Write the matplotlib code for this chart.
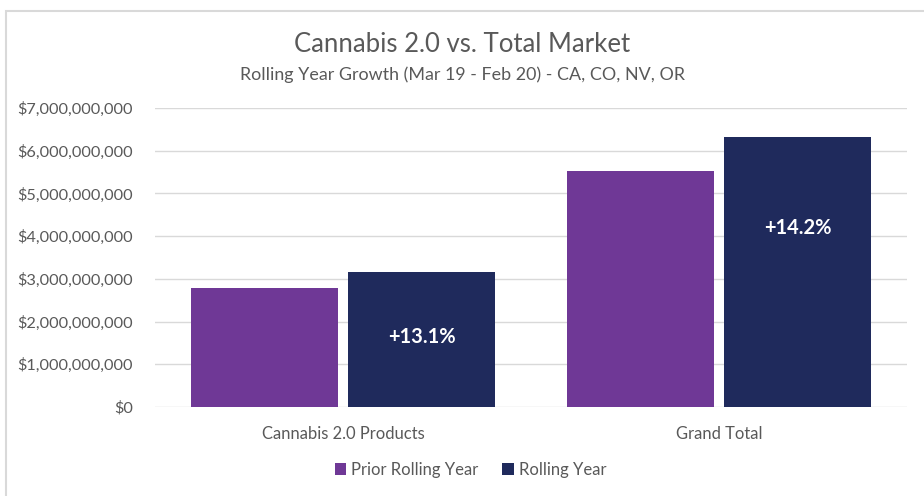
import numpy as np
import matplotlib.pyplot as plt
from matplotlib.patches import Rectangle

categories = ['Cannabis 2.0 Products', 'Grand Total']
prior_year = [2.79e9, 5.53e9]
rolling_year = [3.16e9, 6.32e9]
growth_labels = ['+13.1%', '+14.2%']
yticks = np.arange(0, 8e9, 1e9)

purple = '#6f3896'
navy = '#1f2a5c'
grey = '#595959'

plt.rcParams['font.family'] = ['Lato', 'DejaVu Sans']

fig = plt.figure(figsize=(9.24, 4.96), dpi=100)
ax = fig.add_axes([155/924, 1 - 407/496, (907 - 155)/924, (407 - 108)/496])

x = np.arange(len(categories))
w = 0.389
ax.bar(x - 0.209, prior_year, w, color=purple, label='Prior Rolling Year', zorder=3)
bars = ax.bar(x + 0.209, rolling_year, w, color=navy, label='Rolling Year', zorder=3)

# growth labels sit inside the rolling-year bars
label_y = [1.65e9, 4.2e9]
for b, txt, yy in zip(bars, growth_labels, label_y):
    ax.text(b.get_x() + b.get_width()/2, yy, txt, ha='center', va='center',
            color='white', fontsize=14.5, fontweight='bold')

ax.set_xlim(-0.5, 1.5)
ax.set_ylim(0, 7e9)
ax.set_yticks(yticks)
ax.set_yticklabels(['${:,.0f}'.format(v) for v in yticks], fontsize=11.7, color=grey)
ax.set_xticks(x)
ax.set_xticklabels(categories, fontsize=11.9, color=grey)
ax.tick_params(axis='y', length=0, pad=16)
ax.tick_params(axis='x', length=0, pad=14)
ax.grid(axis='y', color='#d9d9d9', linewidth=1, zorder=0)
for s in ax.spines.values():
    s.set_visible(False)

fig.text(0.5, 1 - 45/496, 'Cannabis 2.0 vs. Total Market', ha='center', va='center',
         fontsize=18.5, color=grey)
fig.text(0.5, 1 - 75/496, 'Rolling Year Growth (Mar 19 - Feb 20) - CA, CO, NV, OR',
         ha='center', va='center', fontsize=12.9, color=grey)

fig.legend(loc='center', bbox_to_anchor=(0.509, 1 - 470/496), ncol=2, frameon=False,
           fontsize=12, labelcolor=grey, handlelength=0.7, handleheight=0.7,
           handletextpad=0.3, columnspacing=1.4)

fig.patches.append(Rectangle((6/924, -0.1), 1.0, 1.1 - 10.5/496, transform=fig.transFigure,
                             fill=False, edgecolor='#d9d9d9', linewidth=1.5))

fig.savefig('out.png', dpi=100)
